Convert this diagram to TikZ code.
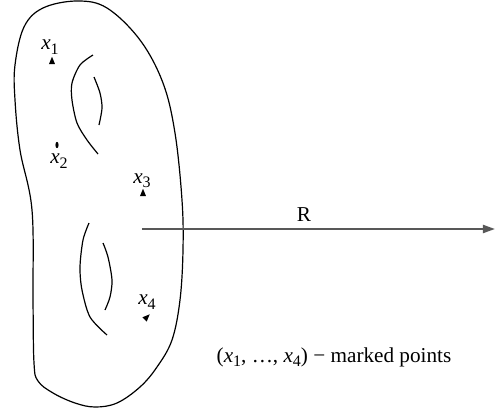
\documentclass[tikz,border=0pt]{standalone}
\usepackage{fontspec}
\setmainfont{Liberation Serif}
\usepackage{tikz}
\usetikzlibrary{positioning, shapes.geometric, arrows.meta}
\definecolor{axisgray}{RGB}{88,88,88}
\newcommand{\xsub}[1]{\textit{x}\raisebox{-0.45ex}{\footnotesize #1}}

\begin{document}
\begin{tikzpicture}[x=0.5pt, y=-0.5pt,
  surface/.style={draw=black, line width=0.6pt},
  ptmark/.style={isosceles triangle, fill=black, inner sep=0pt,
                 minimum width=3pt, minimum height=3.4pt},
  ptlabel/.style={inner sep=0pt, font=\fontsize{10.6}{12}\selectfont},
  arr/.style={-{Triangle[length=6pt, width=4pt]}, line width=1pt, draw=axisgray,
              fill=axisgray}
]
  \useasboundingbox (0,0) rectangle (495,413);

  % the surface
  \draw[surface] plot[smooth cycle, tension=0.6] coordinates {
    (77,1) (107,8) (140,40) (163,83) (175,133) (182,200) (183,250)
    (180,300) (172,340) (157,367) (140,387) (117,403) (95,407)
    (75,403) (53,393) (38,381) (34,363) (33,300) (32,210) (20,150)
    (15,100) (15,65) (24,27) (43,8)};

  % handles
  \draw[surface] plot[smooth] coordinates {
    (93,55) (80,65) (72,83) (72,100) (77,123) (87,140) (98,154)};
  \draw[surface] plot[smooth] coordinates {
    (94,77) (100,93) (102,108) (99,125)};
  \draw[surface] plot[smooth] coordinates {
    (89,223) (83,240) (80,267) (82,290) (90,317) (107,335)};
  \draw[surface] plot[smooth] coordinates {
    (103,243) (108,257) (112,280) (110,297) (105,310)};

  % marked points
  \node[ptmark, shape border rotate=90] (p1) at (52,62) {};
  \node[ellipse, fill=black, inner sep=0pt, minimum width=1.6pt,
        minimum height=3.2pt] (p2) at (57,145) {};
  \node[ptmark, shape border rotate=90] (p3) at (143,194) {};
  \node[ptmark, rotate=45] (p4) at (146,318) {};

  \node[ptlabel] (l1) at (50,47) {\xsub{1}};
  \node[ptlabel] (l2) at (59,161) {\xsub{2}};
  \node[ptlabel] (l3) at (142,181) {\xsub{3}};
  \node[ptlabel] (l4) at (147,302) {\xsub{4}};

  % the line R
  \coordinate (rstart) at (142,229);
  \coordinate (rend) at (495,229);
  \draw[arr] (rstart) -- (rend);
  \node[ptlabel] (rlabel) at (304,215) {R};

  \node[ptlabel] (caption) at (334,357)
    {(\xsub{1}, …, \xsub{4}) − marked points};
\end{tikzpicture}
\end{document}
